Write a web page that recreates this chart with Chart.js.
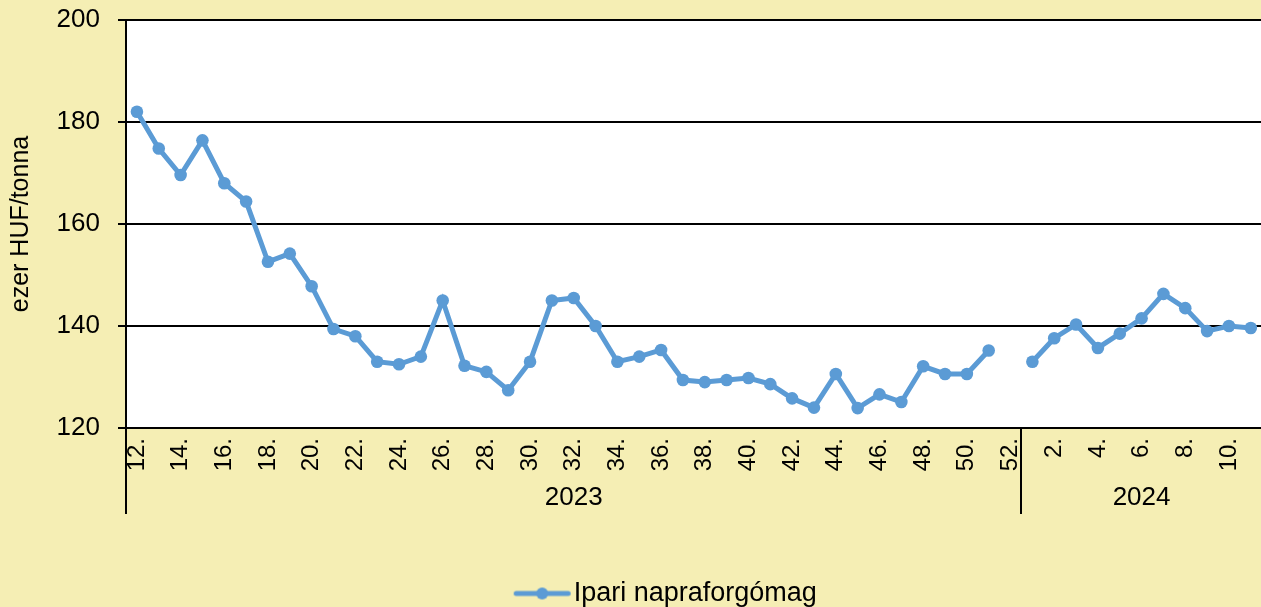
<!DOCTYPE html>
<html>
<head>
  <meta charset="utf-8">
  <title>Ipari napraforgómag</title>
  <script src="https://cdn.jsdelivr.net/npm/chart.js"></script>
  <style>
    body { margin: 0; padding: 0; background: #F5EEB4; overflow: hidden; }
    #outer { width: 1261px; height: 607px; overflow: hidden; }
    #wrap { width: 1268px; height: 607px; position: relative; }
  </style>
</head>
<body>
  <div id="outer"><div id="wrap"><canvas id="chart"></canvas></div></div>

  <script>
    // week labels, 2023 (12-52) and 2024 (1-11)
    const weeks2023 = ['12.','13.','14.','15.','16.','17.','18.','19.','20.','21.','22.','23.','24.','25.','26.','27.','28.','29.','30.','31.','32.','33.','34.','35.','36.','37.','38.','39.','40.','41.','42.','43.','44.','45.','46.','47.','48.','49.','50.','51.','52.'];
    const weeks2024 = ['1.','2.','3.','4.','5.','6.','7.','8.','9.','10.','11.'];
    const years = ['2023', '2024'];

    // ezer HUF/tonna
    const prices2023 = [182, 174.8, 169.6, 176.4, 168, 164.4, 152.6, 154.2, 147.8, 139.4, 138, 133, 132.5, 134, 145,
                        132.2, 131, 127.4, 133, 145, 145.5, 140, 133, 134, 135.3, 129.4, 129, 129.4, 129.8, 128.6,
                        125.8, 124, 130.6, 123.9, 126.6, 125.1, 132.1, 130.6, 130.6, 135.2, null];
    const prices2024 = [133, 137.6, 140.3, 135.7, 138.5, 141.5, 146.3, 143.5, 139, 140, 139.6];

    const seriesName = 'Ipari napraforgómag';
    const yTicks = [120, 140, 160, 180, 200];

    const labels = weeks2023.concat(weeks2024);
    const values = prices2023.concat(prices2024);
    const lineColor = '#5B9BD5';
    const family = '"Liberation Sans", Arial, sans-serif';

    // legend marker: line with a dot, drawn on the right part of a wider image
    // so the legend item sits where the original one does
    const marker = document.createElement('canvas');
    marker.width = 138; marker.height = 14;
    (function() {
      const c = marker.getContext('2d');
      c.strokeStyle = lineColor; c.lineWidth = 5; c.lineCap = 'round';
      c.beginPath(); c.moveTo(79.5, 7); c.lineTo(131.5, 7); c.stroke();
      c.fillStyle = lineColor;
      c.beginPath(); c.arc(105.5, 7, 6, 0, Math.PI * 2); c.fill();
    })();

    // white plot area + year groups under the category axis
    const groupPlugin = {
      id: 'groups',
      beforeDraw(chart) {
        const a = chart.chartArea, ctx = chart.ctx;
        ctx.save();
        ctx.fillStyle = '#fff';
        ctx.fillRect(a.left, a.top, a.right - a.left, a.bottom - a.top);
        ctx.restore();
      },
      afterDraw(chart) {
        const ctx = chart.ctx, x = chart.scales.x, a = chart.chartArea;
        const half = (x.getPixelForValue(1) - x.getPixelForValue(0)) / 2;
        const split = x.getPixelForValue(weeks2023.length - 1) + half;
        const bounds = [a.left, split, a.right];
        ctx.save();
        ctx.strokeStyle = '#000';
        ctx.lineWidth = 2;
        [a.left, split].forEach(px => {
          ctx.beginPath();
          ctx.moveTo(Math.round(px), a.bottom);
          ctx.lineTo(Math.round(px), a.bottom + 86);
          ctx.stroke();
        });
        ctx.fillStyle = '#000';
        ctx.font = '26px ' + family;
        ctx.textAlign = 'center';
        ctx.textBaseline = 'middle';
        years.forEach((y, i) => {
          ctx.fillText(y, (bounds[i] + bounds[i + 1]) / 2, a.bottom + 70);
        });
        ctx.restore();
      }
    };

    new Chart(document.getElementById('chart'), {
      type: 'line',
      data: {
        labels: labels,
        datasets: [{
          label: seriesName,
          data: values,
          borderColor: lineColor,
          backgroundColor: lineColor,
          borderWidth: 5,
          pointRadius: 6.3,
          pointHoverRadius: 6.3,
          pointBorderWidth: 0,
          spanGaps: false,
          tension: 0
        }]
      },
      options: {
        responsive: true,
        maintainAspectRatio: false,
        animation: false,
        layout: { padding: { top: 20, right: 0, left: 0, bottom: -10 } },
        scales: {
          x: {
            type: 'category',
            offset: true,
            grid: { display: false, drawTicks: false },
            border: { color: '#000', width: 2 },
            ticks: {
              autoSkip: false,
              minRotation: 90,
              maxRotation: 90,
              padding: 10,
              color: '#000',
              font: { family: family, size: 24 },
              callback: function(v, i) { return i % 2 === 0 ? this.getLabelForValue(v) : ''; }
            },
            afterFit(axis) {
              axis.height = 148;
              axis.paddingLeft = 0;
              axis.paddingRight = 0;
            }
          },
          y: {
            min: 120,
            max: 200,
            afterBuildTicks(axis) { axis.ticks = yTicks.map(v => ({ value: v })); },
            grid: { color: '#000', lineWidth: 2, tickLength: 8, drawTicks: true },
            border: { color: '#000', width: 2 },
            ticks: { color: '#000', font: { family: family, size: 26 }, padding: 18 },
            title: {
              display: true,
              text: 'ezer HUF/tonna',
              color: '#000',
              font: { family: family, size: 25 },
              padding: { top: 6, bottom: 0 }
            },
            afterFit(axis) {
              axis.width = 126;
              axis.paddingTop = 0;
              axis.paddingBottom = 0;
            }
          }
        },
        plugins: {
          legend: {
            position: 'bottom',
            labels: {
              usePointStyle: true,
              pointStyle: marker,
              pointStyleWidth: 109,
              boxHeight: 14,
              color: '#000',
              font: { family: family, size: 27 },
              padding: 4
            }
          },
          tooltip: { enabled: false }
        }
      },
      plugins: [groupPlugin]
    });
  </script>
</body>
</html>
